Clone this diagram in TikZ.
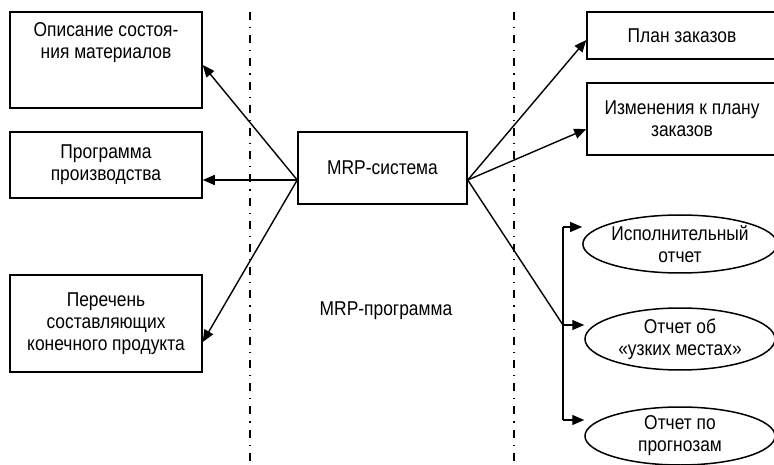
\documentclass[tikz,border=0pt]{standalone}
\usepackage{fontspec}
\setmainfont[FakeStretch=0.87]{Liberation Sans}
\usetikzlibrary{arrows.meta,shapes.geometric,calc}
\begin{document}
\begin{tikzpicture}[x=1pt,y=-1pt,
  every node/.style={font=\fontsize{20}{22}\selectfont, align=center},
  box/.style={draw, line width=1.5pt, inner sep=0pt},
  oval/.style={draw, ellipse, line width=1.5pt, inner sep=0pt},
  arr/.style={line width=1.4pt, -{Triangle[length=12pt,width=10pt]}},
  ln/.style={line width=1.4pt},
  divider/.style={line width=1.5pt, dash pattern=on 8pt off 7pt on 1.2pt off 7pt}
]
\clip (0,0) rectangle (774,465);
\useasboundingbox (0,0) rectangle (774,465);

% left boxes
\node[box, minimum width=192pt, minimum height=96pt] (b1) at (106,60) {};
\node (t1) at (106,43) {Описание состоя-\\ния материалов};
\node[box, minimum width=192pt, minimum height=66pt] (b2) at (106,165) {Программа\\производства};
\node[box, minimum width=192pt, minimum height=97pt] (b3) at (106,323.5) {Перечень\\составляющих\\конечного продукта};

% centre
\node[box, minimum width=169pt, minimum height=72pt] (mrp) at (382.5,168) {MRP-система};
\node (prog) at (386,311) {MRP-программа};

% right boxes
\node[box, minimum width=190pt, minimum height=47pt] (p1) at (682,35.5) {План заказов};
\node[box, minimum width=190pt, minimum height=72pt] (p2) at (682,119) {Изменения к плану\\заказов};

% ellipses
\node[oval, minimum width=190pt, minimum height=58pt] (e1) at (680,244) {Исполнительный\\отчет};
\node[oval, minimum width=190pt, minimum height=62pt] (e2) at (680,339) {Отчет об\\«узких местах»};
\node[oval, minimum width=190pt, minimum height=58pt] (e3) at (680,436) {Отчет по\\прогнозам};

% dividers
\coordinate (d1t) at (250,12); \coordinate (d1b) at (250,465);
\coordinate (d2t) at (514,12); \coordinate (d2b) at (514,465);
\draw[divider] (d1t) -- (d1b);
\draw[divider] (d2t) -- (d2b);

% connection points
\coordinate (ml) at ([yshift=-12pt]mrp.west);
\coordinate (mr) at ([yshift=-12pt]mrp.east);

\draw[arr] (ml) -- ([yshift=-5pt]b1.east);
\draw[arr] (ml) -- ([yshift=-15pt]b2.east);
\draw[arr] (ml) -- ([yshift=-18.5pt]b3.east);

\draw[arr] (mr) -- ([yshift=-4.5pt]p1.west);
\draw[arr] (mr) -- ([yshift=-10pt]p2.west);

\coordinate (j1) at (563,227);
\coordinate (j2) at (563,325);
\coordinate (j3) at (563,420);
\draw[ln] (mr) -- (j2);
\draw[ln] (j1) -- (j3);
\draw[arr] (j1) -- ([yshift=17pt]e1.west);
\draw[arr] (j2) -- ([yshift=14pt]e2.west);
\draw[arr] (j3) -- ([yshift=16pt]e3.west);
\end{tikzpicture}
\end{document}
